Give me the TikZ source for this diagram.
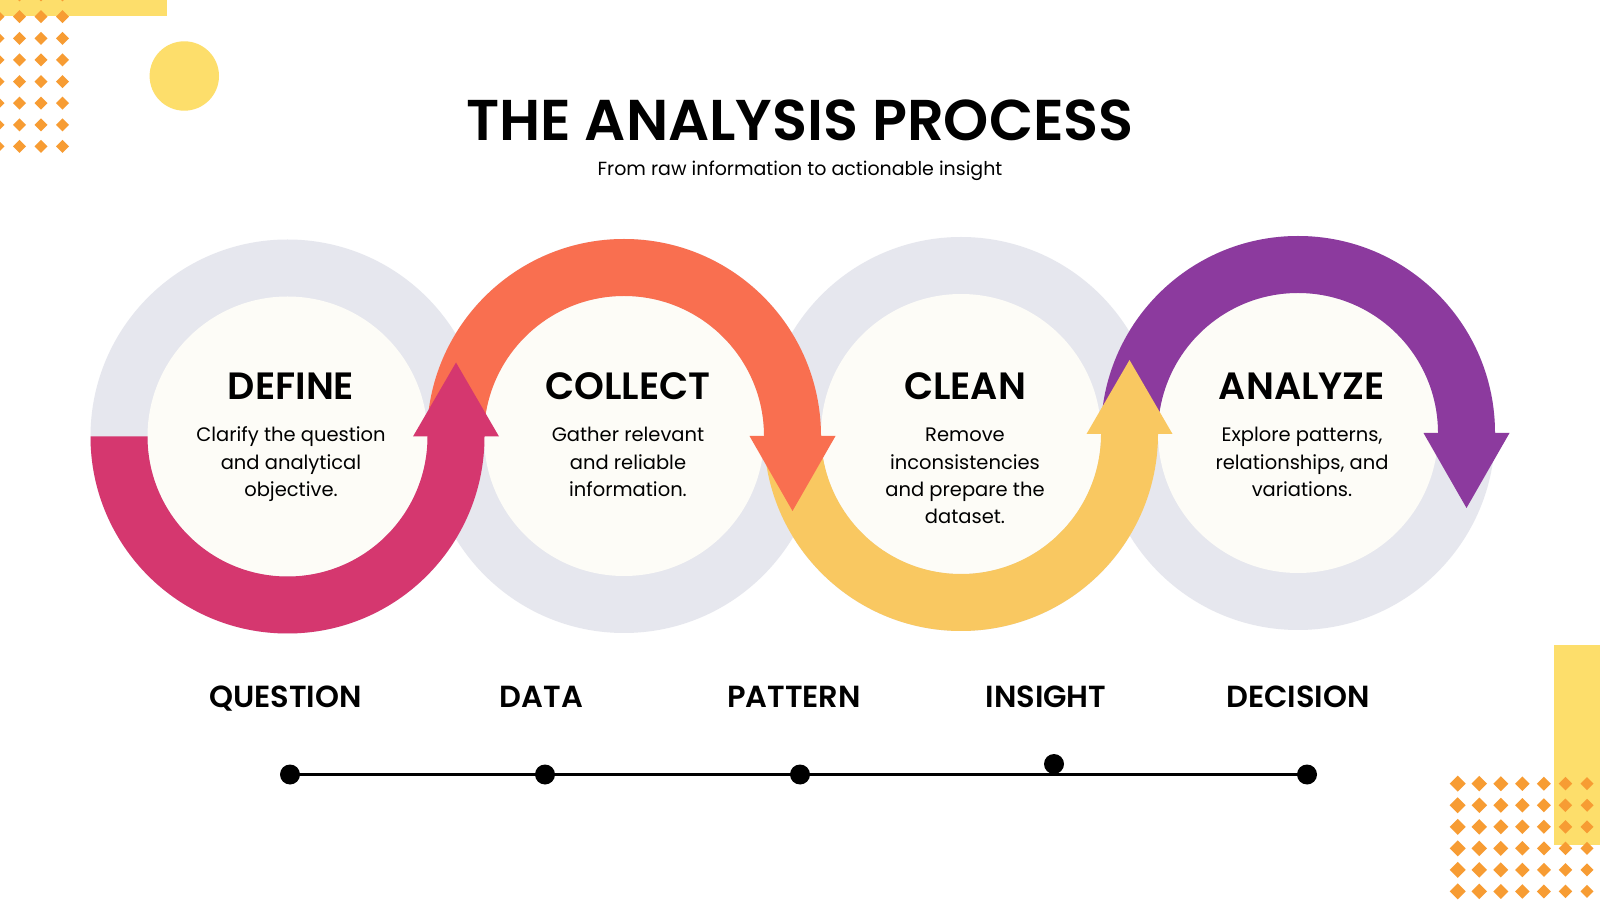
\documentclass[tikz,border=0pt]{standalone}
\usepackage{fontspec}
\setmainfont{Poppins}[BoldFont={Poppins SemiBold}]
\definecolor{ringgray}{HTML}{E6E7EE}
\definecolor{cream}{HTML}{FDFCF7}
\definecolor{cpink}{HTML}{D5376F}
\definecolor{corange}{HTML}{F96F50}
\definecolor{cyellow}{HTML}{F9C861}
\definecolor{cpurple}{HTML}{8C3A9E}
\definecolor{decoyellow}{HTML}{FDDE6B}
\definecolor{decoorange}{HTML}{F79C33}
\begin{document}
\begin{tikzpicture}[x=1pt,y=1pt,
  ring/.style={fill=ringgray},
  hole/.style={fill=cream},
  steptitle/.style={font=\fontsize{38}{45}\selectfont\bfseries, anchor=base, inner sep=0pt},
  stepbody/.style={font=\fontsize{19.5}{27.3}\selectfont, align=center, anchor=north, inner sep=0pt},
  milestone/.style={font=\fontsize{30.5}{36}\selectfont\bfseries, anchor=base, inner sep=0pt},
  tdot/.style={circle, fill=black, inner sep=0pt, minimum size=20pt},
  tline/.style={draw=black, line width=3pt}
]
\useasboundingbox (0,0) rectangle (1600,900);
\fill[white] (0,0) rectangle (1600,900);

% decorations top-left
\fill[decoyellow] (0,884) rectangle (167,900);
\fill[decoyellow] (184.3,824) circle[radius=34.7];
\foreach \cx in {-2,19.5,41,62.5}{
  \foreach \ry in {-5,16.7,38.3,60,81.6,103.2,124.8,146.4}{
    \fill[decoorange] (\cx,900-\ry+6.5) -- (\cx+6.5,900-\ry) -- (\cx,900-\ry-6.5) -- (\cx-6.5,900-\ry) -- cycle;
  }
}
% decorations bottom-right
\fill[decoyellow] (1554,55) rectangle (1600,255);
\foreach \k in {0,...,6}{
  \foreach \j in {0,...,5}{
    \pgfmathsetmacro{\dx}{1457.7+21.55*\k}
    \pgfmathsetmacro{\dy}{900-(783.7+21.55*\j)}
    \pgfmathsetmacro{\hs}{8-0.25*\k}
    \fill[decoorange] (\dx,\dy+\hs) -- (\dx+\hs,\dy) -- (\dx,\dy-\hs) -- (\dx-\hs,\dy) -- cycle;
  }
}

% title
\node[font=\fontsize{57.5}{64}\selectfont\bfseries, anchor=base, inner sep=0pt] (title) at (800,759) {THE ANALYSIS PROCESS};
\node[font=\fontsize{19}{23}\selectfont, anchor=base, inner sep=0pt] (subtitle) at (800,724) {From raw information to actionable insight};

% gray rings
\foreach \cx/\cy in {287.5/463.5, 624/464, 961/466, 1298/467}{
  \fill[ring] (\cx,\cy) circle[radius=197];
}
\foreach \cx/\cy in {287.5/463.5, 624/464, 961/466, 1298/467}{
  \fill[hole] (\cx,\cy) circle[radius=140];
}

% coloured arcs (drawn in reverse so each arrowhead lies on the next arc)
\begin{scope}[shift={(1298,467)}]
\fill[cpurple] (-197,0) arc[start angle=180,end angle=0,radius=197] -- (211.5,0) -- (168.5,-75) -- (125.5,0) -- (140,0) arc[start angle=0,end angle=180,radius=140] -- cycle;
\end{scope}
\begin{scope}[shift={(961,466)}]
\fill[cyellow] (-197,0) arc[start angle=180,end angle=360,radius=197] -- (211.5,0) -- (168.5,74) -- (125.5,0) -- (140,0) arc[start angle=360,end angle=180,radius=140] -- cycle;
\end{scope}
\begin{scope}[shift={(624,464)}]
\fill[corange] (-197,0) arc[start angle=180,end angle=0,radius=197] -- (211.5,0) -- (168.5,-75) -- (125.5,0) -- (140,0) arc[start angle=0,end angle=180,radius=140] -- cycle;
\end{scope}
\begin{scope}[shift={(287.5,463.5)}]
\fill[cpink] (-197,0) arc[start angle=180,end angle=360,radius=197] -- (211.5,0) -- (168.5,74) -- (125.5,0) -- (140,0) arc[start angle=360,end angle=180,radius=140] -- cycle;
\end{scope}

% step texts
\node[steptitle] (define) at (291,500) {DEFINE};
\node[stepbody] (defineb) at (291,477.5) {\strut Clarify the question\\and analytical\\objective.};
\node[steptitle] (collect) at (628,500) {COLLECT};
\node[stepbody] (collectb) at (628,477.5) {\strut Gather relevant\\and reliable\\information.};
\node[steptitle] (clean) at (965,500) {CLEAN};
\node[stepbody] (cleanb) at (965,477.5) {\strut Remove\\inconsistencies\\and prepare the\\dataset.};
\node[steptitle] (analyze) at (1302,500) {ANALYZE};
\node[stepbody] (analyzeb) at (1302,477.5) {\strut Explore patterns,\\relationships, and\\variations.};

% milestones
\node[milestone] (question) at (285.5,193) {QUESTION};
\node[milestone] (data) at (541.5,193) {DATA};
\node[milestone] (pattern) at (794,193) {PATTERN};
\node[milestone] (insight) at (1046,193) {INSIGHT};
\node[milestone] (decision) at (1298,193) {DECISION};

% timeline
\node[tdot] (t1) at (290,125.5) {};
\node[tdot] (t2) at (545,125.5) {};
\node[tdot] (t3) at (800,125.5) {};
\node[tdot] (t4) at (1054,136) {};
\node[tdot] (t5) at (1307,125.5) {};
\draw[tline] (t1.center) -- (t5.center);
\end{tikzpicture}
\end{document}
